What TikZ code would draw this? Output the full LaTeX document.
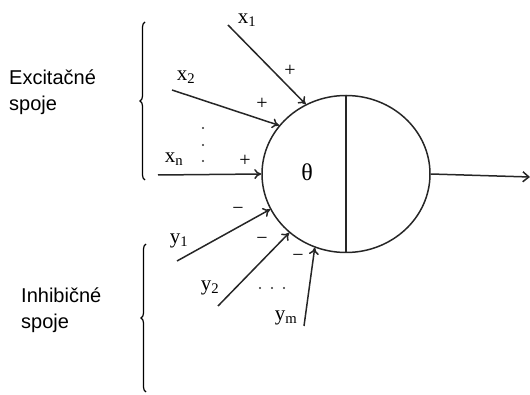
\documentclass[tikz,border=0pt]{standalone}
\usepackage{fontspec}
\newfontfamily\sansf{Liberation Sans}
\newfontfamily\serf{Liberation Serif}
\usetikzlibrary{arrows.meta,shapes.geometric,decorations.pathreplacing}
\begin{document}
\begin{tikzpicture}[x=1pt,y=-1pt,
  wire/.style={line width=1.5pt,black!85},
  inarrow/.style={wire,-{To[length=7pt,width=10pt]}},
  lab/.style={font=\serf\fontsize{21}{21}\selectfont,inner sep=0pt},
  sgn/.style={font=\serf\fontsize{20}{20}\selectfont,inner sep=0pt},
  dotm/.style={circle,fill=black!80,inner sep=0pt,minimum size=2.2pt},
  grp/.style={font=\sansf\fontsize{20}{26}\selectfont,align=left,inner sep=0pt,anchor=west},
  brc/.style={line width=1.2pt,decorate,decoration={brace,amplitude=5pt,mirror}}]
\useasboundingbox (0,0) rectangle (530,395);
\node[ellipse,draw,wire,minimum width=168pt,minimum height=157pt,inner sep=0pt] (neuron) at (346,174) {};
\draw[wire] (neuron.north) -- (neuron.south);
\node[font=\serf\fontsize{24}{24}\selectfont,inner sep=0pt] (theta) at (307,172) {θ};
\coordinate (out) at (530,177);
\draw[wire,-{Straight Barb[length=6pt,width=10pt]}] (neuron.east) -- (out);
% excitatory inputs
\coordinate (x1s) at (228,25);
\coordinate (x2s) at (172,90);
\coordinate (xns) at (158,175);
\draw[inarrow] (x1s) -- (neuron.120);
\draw[inarrow] (x2s) -- (neuron.144);
\draw[inarrow] (xns) -- (neuron.180);
\node[lab] (x1l) at (247,20) {x\textsubscript{1}};
\node[lab] (x2l) at (186,77) {x\textsubscript{2}};
\node[lab] (xnl) at (174,159) {x\textsubscript{n}};
\node[sgn] (p1) at (290,71) {+};
\node[sgn] (p2) at (262,104) {+};
\node[sgn] (pn) at (245,161) {+};
\node[dotm] (vd1) at (203,128) {};
\node[dotm] (vd2) at (203,145) {};
\node[dotm] (vd3) at (203,161) {};
% inhibitory inputs
\coordinate (y1s) at (177,261);
\coordinate (y2s) at (218,306);
\coordinate (yms) at (304,326);
\draw[inarrow] (y1s) -- (neuron.205);
\draw[inarrow] (y2s) -- (neuron.226);
\draw[inarrow] (yms) -- (neuron.247);
\node[lab] (y1l) at (179,241) {y\textsubscript{1}};
\node[lab] (y2l) at (210,288) {y\textsubscript{2}};
\node[lab] (yml) at (286,318) {y\textsubscript{m}};
\node[sgn] (m1) at (238,211) {−};
\node[sgn] (m2) at (262,241) {−};
\node[sgn] (mm) at (298,258) {−};
\node[dotm] (hd1) at (260,288) {};
\node[dotm] (hd2) at (272,288) {};
\node[dotm] (hd3) at (284,288) {};
% braces
\coordinate (b1t) at (145,22);
\coordinate (b1b) at (145,180);
\coordinate (b2t) at (146,244);
\coordinate (b2b) at (146,392);
\draw[brc] (b1t) -- (b1b);
\draw[brc] (b2t) -- (b2b);
\node[grp] (exc) at (9,92) {Excitačné\\spoje};
\node[grp] (inh) at (21,310) {Inhibičné\\spoje};
\end{tikzpicture}
\end{document}
